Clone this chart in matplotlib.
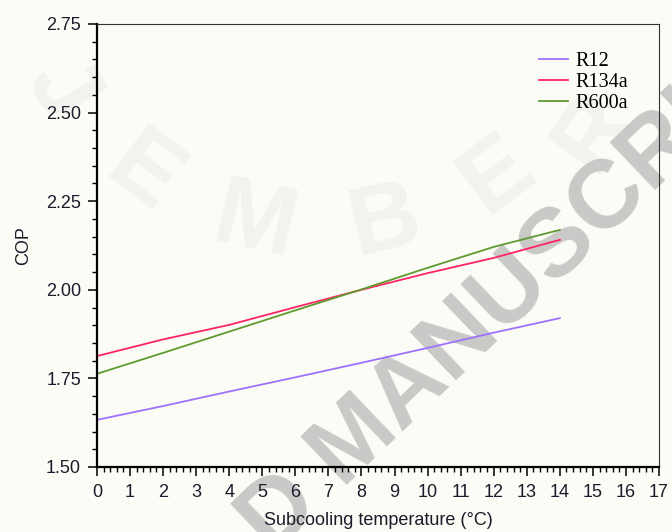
import numpy as np
import matplotlib
matplotlib.use("Agg")
import matplotlib.pyplot as plt
from matplotlib.ticker import MultipleLocator

# subcooling temperature (deg C) and COP of each refrigerant
subcool = [0, 2, 4, 6, 8, 10, 12, 14]
cop_r12 = [1.633, 1.672, 1.713, 1.753, 1.794, 1.836, 1.879, 1.920]
cop_r134a = [1.813, 1.860, 1.901, 1.951, 2.000, 2.047, 2.090, 2.141]
cop_r600a = [1.763, 1.822, 1.882, 1.942, 2.001, 2.062, 2.121, 2.169]

series = ["R12", "R134a", "R600a"]
colors = ["#a070ff", "#ff2463", "#5e9a30"]

bg = "#fcfcf6"
ink = "#1b1b2b"

fig = plt.figure(figsize=(6.72, 5.32), dpi=100, facecolor=bg)
ax = fig.add_axes([0.1443, 0.1222, 0.8364, 0.8327])
ax.set_facecolor("none")
ax.set_zorder(1)

# faint repository watermark behind the plot
cx, cy = 320, -60
for ch, phi, rr in zip("JEMBER", [-60, -37, -13, 13, 37, 55],
                       [300, 295, 292, 290, 295, 335]):
    p = np.radians(phi)
    x = cx + rr * np.sin(p)
    y = cy + rr * np.cos(p)
    fig.text(x / 672, 1 - y / 532, ch, fontsize=70, fontweight="bold",
             family="Liberation Sans", color="#f2f2ee", rotation=phi,
             ha="center", va="center", zorder=-2)
fig.text(0.405, -0.046, "D MANUSCRIPT", fontsize=70, fontweight="bold",
         family="Liberation Sans", color="#c9c9c7", rotation=43.7,
         rotation_mode="anchor", ha="left", va="baseline", zorder=-1)

for name, vals, c in zip(series, [cop_r12, cop_r134a, cop_r600a], colors):
    ax.plot(subcool, vals, color=c, lw=1.3, label=name)

ax.set_xlim(0, 17)
ax.set_ylim(1.5, 2.75)
ax.xaxis.set_major_locator(MultipleLocator(1))
ax.xaxis.set_minor_locator(MultipleLocator(0.2))
ax.yaxis.set_major_locator(MultipleLocator(0.25))
ax.yaxis.set_minor_locator(MultipleLocator(0.05))
ax.yaxis.set_major_formatter(matplotlib.ticker.FormatStrFormatter("%.2f"))

for s in ["left", "bottom"]:
    ax.spines[s].set_linewidth(1.6)
for s in ["top", "right"]:
    ax.spines[s].set_linewidth(0.8)
    ax.spines[s].set_color("#333333")

ax.tick_params(axis="both", which="major", direction="out", length=6.5,
               width=1.1, labelsize=13, labelcolor=ink, color="black")
ax.tick_params(axis="both", which="minor", direction="out", length=3.5,
               width=1.0, color="black")
ax.tick_params(axis="y", which="major", pad=5)
ax.tick_params(axis="x", which="major", pad=6)
for lab in ax.get_xticklabels() + ax.get_yticklabels():
    lab.set_family("Liberation Sans")

ax.set_xlabel("Subcooling temperature (°C)", fontsize=13, color=ink,
              family="Liberation Sans", labelpad=8)
ax.set_ylabel("COP", fontsize=13, color=ink, family="Liberation Sans",
              labelpad=10)

leg = ax.legend(loc="upper left", bbox_to_anchor=(0.786, 0.937),
                frameon=False, borderpad=0, borderaxespad=0,
                handlelength=1.45, handletextpad=0.35, labelspacing=0.1,
                prop={"family": "Liberation Serif", "size": 14.5})

fig.savefig("out.png", dpi=100, facecolor=bg)
